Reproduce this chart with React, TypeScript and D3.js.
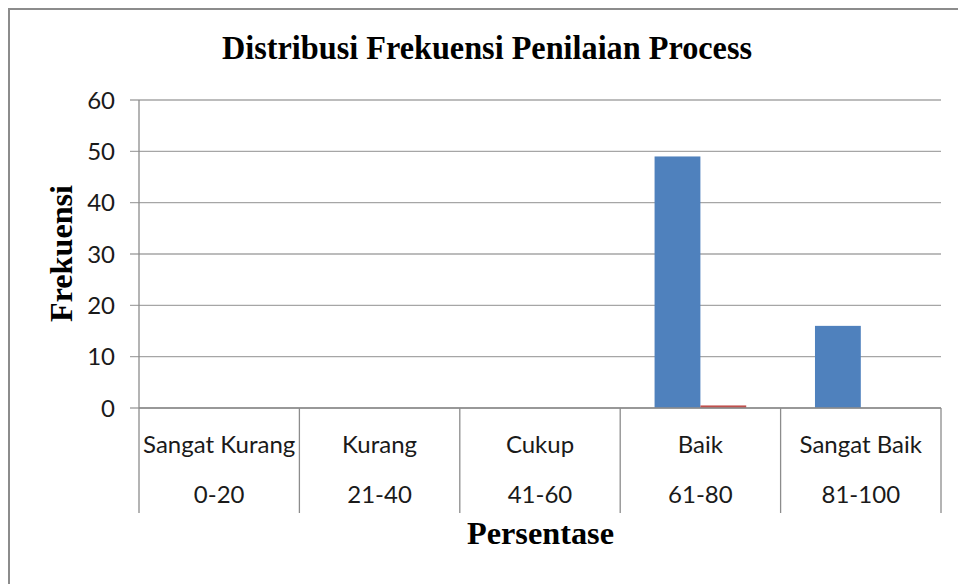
import React, {useEffect, useRef} from "react";
import * as d3 from "d3";

const categories = ["Sangat Kurang", "Kurang", "Cukup", "Baik", "Sangat Baik"];
const ranges = ["0-20", "21-40", "41-60", "61-80", "81-100"];
const seriesA = [0, 0, 0, 49, 16];
const seriesB = [0, 0, 0, 0.5, 0];
const yTicks = [0, 10, 20, 30, 40, 50, 60];
const seriesColors = ["#4f81bd", "#c0504d"];

const App = () => {
    const ref = useRef<SVGSVGElement>(null);

    useEffect(() => {
        const svg: any = d3.select(ref.current);
        svg.selectAll("*").remove();

        const left = 139, right = 941, top = 100, bottom = 408, tableBottom = 513;
        const sans = "Lato, 'Open Sans', sans-serif";

        // outer chart frame
        svg.append("rect")
            .attr("x", 9).attr("y", 9)
            .attr("width", 980).attr("height", 600)
            .attr("fill", "#fff")
            .attr("stroke", "#8c8c8c").attr("stroke-width", 2);

        const x = d3.scaleBand<string>()
            .domain(categories)
            .range([left, right])
            .paddingInner(0).paddingOuter(0);
        const bw = x.bandwidth() / 3.5;
        const y = d3.scaleLinear().domain([0, 60]).range([bottom, top]);

        // gridlines + tick marks
        svg.append("g")
            .selectAll("line")
            .data(yTicks)
            .enter()
            .append("line")
            .attr("x1", left - 9).attr("x2", right)
            .attr("y1", (d: number) => y(d)).attr("y2", (d: number) => y(d))
            .attr("stroke", "#a6a6a6").attr("stroke-width", 1.3);

        svg.append("g")
            .selectAll("text")
            .data(yTicks)
            .enter()
            .append("text")
            .attr("x", 115)
            .attr("y", (d: number) => y(d))
            .attr("dy", "0.36em")
            .attr("text-anchor", "end")
            .attr("font-family", sans)
            .attr("font-size", 24)
            .attr("fill", "#1a1a1a")
            .text((d: number) => d);

        // bars
        const series = [seriesA, seriesB];
        series.forEach((vals, si) => {
            svg.append("g")
                .selectAll("rect")
                .data(vals.map((v, i) => ({c: categories[i], v})))
                .enter()
                .append("rect")
                .attr("x", (d: any) => (x(d.c) as number) + bw * 0.75 + si * bw)
                .attr("y", (d: any) => y(d.v))
                .attr("width", bw)
                .attr("height", (d: any) => bottom - y(d.v))
                .attr("fill", seriesColors[si]);
        });

        // axis line and table separators
        const edges = categories.map(c => x(c) as number).concat([right]);
        svg.append("line")
            .attr("x1", left).attr("x2", left)
            .attr("y1", top).attr("y2", tableBottom)
            .attr("stroke", "#8c8c8c").attr("stroke-width", 1.3);
        svg.append("g")
            .selectAll("line")
            .data(edges.slice(1))
            .enter()
            .append("line")
            .attr("x1", (d: number) => d).attr("x2", (d: number) => d)
            .attr("y1", bottom).attr("y2", tableBottom)
            .attr("stroke", "#8c8c8c").attr("stroke-width", 1.3);
        svg.append("line")
            .attr("x1", left).attr("x2", right)
            .attr("y1", bottom).attr("y2", bottom)
            .attr("stroke", "#8c8c8c").attr("stroke-width", 1.3);

        const labelRow = (labels: string[], yy: number) => {
            svg.append("g")
                .selectAll("text")
                .data(labels)
                .enter()
                .append("text")
                .attr("x", (d: string, i: number) => (x(categories[i]) as number) + x.bandwidth() / 2)
                .attr("y", yy)
                .attr("text-anchor", "middle")
                .attr("font-family", sans)
                .attr("font-size", 24)
                .attr("fill", "#1a1a1a")
                .text((d: string) => d);
        };
        labelRow(categories, 453);
        labelRow(ranges, 503);

        const serif = "'Liberation Serif', 'Times New Roman', serif";
        svg.append("text")
            .attr("x", 222).attr("y", 59)
            .attr("font-family", serif)
            .attr("font-weight", "bold")
            .attr("font-size", 33)
            .attr("textLength", 530)
            .attr("lengthAdjust", "spacingAndGlyphs")
            .text("Distribusi Frekuensi Penilaian Process");

        svg.append("text")
            .attr("x", 467).attr("y", 544)
            .attr("font-family", serif)
            .attr("font-weight", "bold")
            .attr("font-size", 32)
            .attr("textLength", 147)
            .attr("lengthAdjust", "spacingAndGlyphs")
            .text("Persentase");

        svg.append("text")
            .attr("transform", "translate(72,322) rotate(-90)")
            .attr("font-family", serif)
            .attr("font-weight", "bold")
            .attr("font-size", 32)
            .attr("textLength", 137)
            .attr("lengthAdjust", "spacingAndGlyphs")
            .text("Frekuensi");
    }, []);

    return (
        <div style={{position: "absolute", left: 0, top: 0}}>
            <svg ref={ref} width={958} height={584}></svg>
        </div>
    );
};

export default App;
